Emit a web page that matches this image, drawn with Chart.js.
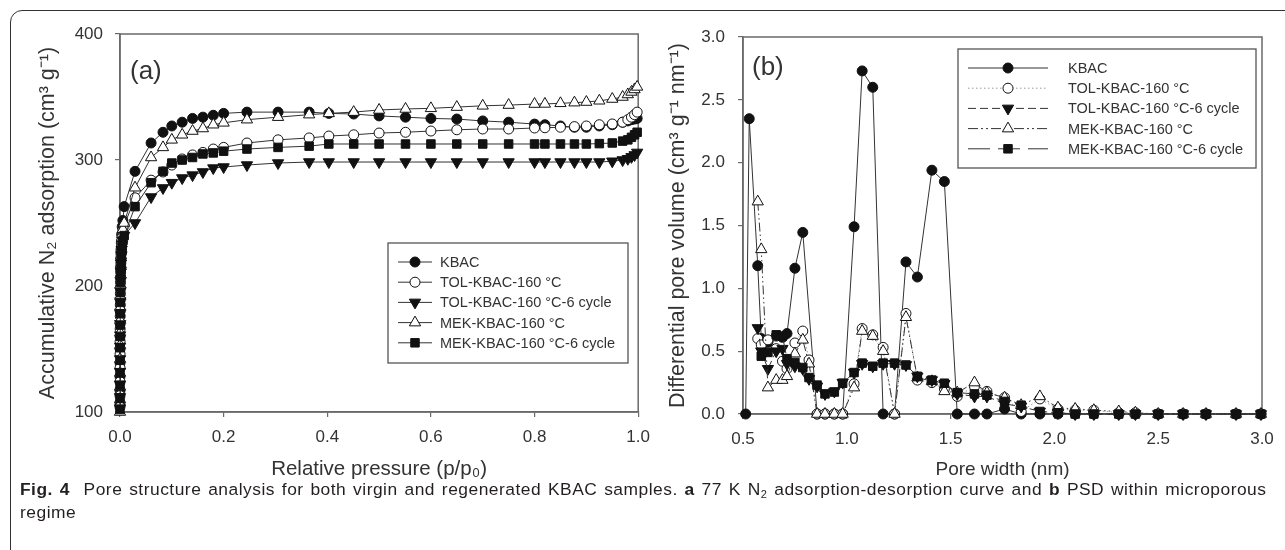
<!DOCTYPE html>
<html>
<head>
<meta charset="utf-8">
<script src="https://cdn.jsdelivr.net/npm/chart.js@4.4.0/dist/chart.umd.min.js"></script>
<style>
  body { margin: 0; background: #fff; width: 1285px; height: 550px; overflow: hidden; position: relative; }
  #frame { position: absolute; left: 10px; top: 10px; width: 1320px; height: 600px; border: 1px solid #333; border-radius: 12px; }
  #isoChart { position: absolute; left: 0; top: 0; }
  #psdChart { position: absolute; left: 655px; top: 0; }
  #caption { position: absolute; left: 20px; top: 478px; font-family: "Liberation Sans", Arial, sans-serif; font-size: 17.4px; letter-spacing: 0.5px; word-spacing: 1.5px; line-height: 23px; color: #231f20; white-space: nowrap; }
  #caption b { font-weight: 700; }
  #caption sub { font-size: 11px; line-height: 0; vertical-align: -3px; }
</style>
</head>
<body>
<div id="frame"></div>
<canvas id="isoChart" width="660" height="490"></canvas>
<canvas id="psdChart" width="630" height="490"></canvas>
<div id="caption"><b>Fig. 4</b>&nbsp; Pore structure analysis for both virgin and regenerated KBAC samples. <b>a</b> 77 K N<sub>2</sub> adsorption-desorption curve and <b>b</b> PSD within microporous<br>regime</div>

<script>
// sample names (same order in both panels)
const names = [
  "KBAC",
  "TOL-KBAC-160 °C",
  "TOL-KBAC-160 °C-6 cycle",
  "MEK-KBAC-160 °C",
  "MEK-KBAC-160 °C-6 cycle",
];

// (a) N2 isotherm, relative pressure p/p0
const pressure = [
  0.00001, 0.00003, 0.00006, 0.0001, 0.00015, 0.0002, 0.0003, 0.0004, 0.0005, 0.0007,
  0.0009, 0.0012, 0.0016, 0.002, 0.0026, 0.0033, 0.0042, 0.0055, 0.008,
  0.029, 0.06, 0.083, 0.1, 0.12, 0.14, 0.16, 0.18, 0.2, 0.245,
  0.305, 0.365, 0.403, 0.451, 0.5, 0.551, 0.6, 0.65, 0.7, 0.75,
  0.8, 0.82, 0.85, 0.877, 0.9, 0.925, 0.95, 0.97, 0.98, 0.987, 0.993, 0.998,
];
const isoKBAC = [
  106, 117, 128, 139, 150, 160, 170, 180, 189, 198, 207, 215, 222, 229, 235, 241, 247, 252, 263,
  291, 313.5, 322, 327, 330, 333, 334, 335.5, 337, 338,
  338, 338, 337, 336.5, 335, 334, 333, 332.5, 331, 330,
  328.5, 328, 327, 326, 326, 327, 328, 330, 331, 332, 332.5, 333,
];
const isoTOL = [
  104, 113, 124, 135, 146, 156, 166, 176, 185, 194, 203, 211, 218, 225, 231, 236, 240, 244, 248,
  270, 284, 290.5, 296, 300.8, 304, 306, 308.7, 310, 313.5,
  316, 317.5, 319, 320, 321.4, 322, 323, 324, 324.6, 324.6,
  325.4, 325.6, 326, 326.5, 327, 328, 328.6, 330, 332, 334, 336, 338,
];
const isoTOL6 = [
  103, 112, 122, 132, 142, 152, 161, 170, 179, 188, 196, 204, 211, 218, 224, 229, 233, 236, 240,
  250, 270.6, 277.8, 282, 285.7, 288, 290.5, 293.6, 294.4, 296,
  297.6, 298.4, 298.4, 298.4, 298.4, 298.4, 298.4, 298.4, 298.4, 298.4,
  298.4, 298.4, 298.4, 298.4, 298.4, 298.4, 299, 300, 301, 302.5, 304, 306,
];
const isoMEK = [
  100, 110, 120, 131, 142, 153, 163, 173, 183, 192, 201, 209, 217, 224, 230, 236, 241, 245, 250,
  278, 302, 310, 316, 320, 323, 325, 328, 329.5, 332,
  334, 336, 337, 338, 339.7, 340.5, 341, 342, 343, 343.6,
  344.4, 344.5, 345, 345.5, 346, 347, 348.4, 350, 352, 354, 356, 358,
];
const isoMEK6 = [
  102, 111, 121, 131, 141, 151, 160, 169, 178, 187, 195, 203, 210, 217, 223, 228, 232, 236, 240,
  263, 282, 291, 297.6, 300, 302, 304.8, 305.6, 307, 308.7,
  310, 311, 312.7, 312.7, 312.7, 312.7, 312.7, 312.7, 312.7, 312.7,
  312.7, 312.7, 312.7, 312.7, 312.7, 313, 313.5, 315, 316, 318, 320, 322,
];

// (b) pore size distribution, pore width in nm
const poreWidth = [
  0.513, 0.53, 0.571, 0.588, 0.62, 0.66, 0.69, 0.712, 0.75, 0.788,
  0.818, 0.857, 0.895, 0.94, 0.98, 1.035, 1.074, 1.125, 1.175, 1.23,
  1.285, 1.34, 1.41, 1.47, 1.532, 1.615, 1.675, 1.76, 1.84, 1.93,
  2.017, 2.1, 2.19, 2.31, 2.39, 2.5, 2.62, 2.73, 2.875, 2.995,
];
const psdKBAC = [
  0, 2.35, 1.18, 0.6, 0.57, 0.62, 0.61, 0.64, 1.16, 1.445,
  null, 0, 0, 0, 0, 1.49, 2.73, 2.6, 0, 0,
  1.21, 1.09, 1.94, 1.85, 0, 0, 0, 0.04, 0, 0,
  0, 0, 0, 0, 0, 0, 0, 0, 0, 0,
];
const psdTOL = [
  null, null, 0.6, 0.55, 0.59, 0.52, 0.42, 0.36, 0.565, 0.66,
  0.43, 0, 0, 0, 0, 0.24, 0.68, 0.63, 0.53, 0,
  0.8, 0.27, 0.25, 0.2, 0.14, 0.22, 0.18, 0.13, 0.02, 0.12,
  0.04, 0.03, 0.03, 0.01, 0.01, 0, 0, 0, 0, 0,
];
const psdTOL6 = [
  null, null, 0.685, 0.5, 0.36, 0.5, 0.52, 0.4, 0.38, 0.36,
  0.28, 0.22, 0.16, 0.18, 0.25, 0.33, 0.4, 0.38, 0.4, 0.4,
  0.39, 0.3, 0.27, 0.24, 0.16, 0.14, 0.14, 0.08, 0.06, 0.02,
  0.01, 0, 0, 0, 0, 0, 0, 0, 0, 0,
];
const psdMEK = [
  null, null, 1.69, 1.31, 0.21, 0.27, 0.27, 0.3, 0.48, 0.59,
  0.4, 0, 0, 0, 0, 0.21, 0.66, 0.62, 0.5, 0,
  0.77, 0.29, 0.26, 0.18, 0.17, 0.25, 0.17, 0.13, 0.07, 0.14,
  0.05, 0.04, 0.03, 0.02, 0.01, 0, 0, 0, 0, 0,
];
const psdMEK6 = [
  null, null, null, 0.46, 0.49, 0.63, 0.62, 0.44, 0.41, 0.37,
  0.29, 0.23, 0.16, 0.175, 0.245, 0.33, 0.405, 0.38, 0.405, 0.405,
  0.39, 0.3, 0.27, 0.245, 0.17, 0.16, 0.15, 0.1, 0.07, 0.02,
  0.01, 0, 0, 0, 0, 0, 0, 0, 0, 0,
];

// marker + line styles per sample
const markers = [
  { style: "circle", r: 5, fill: "#111", rot: 0 },
  { style: "circle", r: 5, fill: "#fff", rot: 0 },
  { style: "triangle", r: 6.5, fill: "#111", rot: 180 },
  { style: "triangle", r: 6.5, fill: "#fff", rot: 0 },
  { style: "rect", r: 6, fill: "#111", rot: 0 },
];
const dashes = [[], [1.5, 2.5], [7, 4], [9, 3, 1.5, 3, 1.5, 3], [13, 6]];
const lineColors = ["#333", "#999", "#333", "#333", "#333"];

const TXT = "#333";
const AXIS = "#6a6a6a";
const FONT = '"Liberation Sans", Arial, sans-serif';

function makeSets(xs, series, styled) {
  return series.map((ys, i) => ({
    label: names[i],
    data: xs.map((x, j) => ({ x: x, y: ys[j] })),
    showLine: true,
    borderColor: styled ? lineColors[i] : "#333",
    borderWidth: 1,
    borderDash: styled ? dashes[i] : [],
    pointStyle: markers[i].style,
    pointRadius: markers[i].r,
    pointHoverRadius: markers[i].r,
    pointRotation: markers[i].rot,
    pointBackgroundColor: markers[i].fill,
    pointBorderColor: "#111",
    pointBorderWidth: 1,
    spanGaps: true,
    clip: false,
    order: 5 - i,
  }));
}

// own marker drawing for the boxed legend
function drawMarker(ctx, m, x, y) {
  ctx.save();
  ctx.fillStyle = m.fill;
  ctx.strokeStyle = "#111";
  ctx.lineWidth = 1;
  ctx.setLineDash([]);
  ctx.beginPath();
  if (m.style === "circle") {
    ctx.arc(x, y, m.r, 0, Math.PI * 2);
  } else if (m.style === "rect") {
    const s = m.r * Math.SQRT1_2;
    ctx.rect(x - s, y - s, 2 * s, 2 * s);
  } else {
    let a = (m.rot * Math.PI) / 180;
    ctx.moveTo(x + Math.sin(a) * m.r, y - Math.cos(a) * m.r);
    a += (2 * Math.PI) / 3;
    ctx.lineTo(x + Math.sin(a) * m.r, y - Math.cos(a) * m.r);
    a += (2 * Math.PI) / 3;
    ctx.lineTo(x + Math.sin(a) * m.r, y - Math.cos(a) * m.r);
    ctx.closePath();
  }
  ctx.fill();
  ctx.stroke();
  ctx.restore();
}

const plotFrame = {
  id: "plotFrame",
  beforeDatasetsDraw(chart) {
    const a = chart.chartArea;
    const ctx = chart.ctx;
    ctx.save();
    ctx.strokeStyle = AXIS;
    ctx.lineWidth = 1.5;
    ctx.strokeRect(a.left, a.top, a.right - a.left, a.bottom - a.top);
    ctx.restore();
  },
  afterDraw(chart, args, o) {
    const a = chart.chartArea;
    const ctx = chart.ctx;
    ctx.save();
    ctx.fillStyle = TXT;
    ctx.font = "26px " + FONT;
    ctx.textBaseline = "middle";
    ctx.fillText(o.tag, a.left + o.tagX, a.top + o.tagY);
    ctx.restore();
  },
};

const boxLegend = {
  id: "boxLegend",
  afterDraw(chart, args, o) {
    const ctx = chart.ctx;
    ctx.save();
    ctx.fillStyle = "#fff";
    ctx.fillRect(o.x, o.y, o.w, o.h);
    ctx.strokeStyle = "#555";
    ctx.lineWidth = 1.3;
    ctx.strokeRect(o.x, o.y, o.w, o.h);
    ctx.font = "14.5px " + FONT;
    ctx.textBaseline = "middle";
    chart.data.datasets.forEach((ds, i) => {
      const y = o.y + o.first + i * o.row;
      ctx.strokeStyle = ds.borderColor;
      ctx.lineWidth = 1;
      ctx.setLineDash(o.dashes ? o.dashes[i] : []);
      ctx.beginPath();
      ctx.moveTo(o.lineX, y);
      ctx.lineTo(o.lineX + o.lineLen, y);
      ctx.stroke();
      ctx.setLineDash([]);
      drawMarker(ctx, markers[i], o.lineX + o.lineLen / 2, y);
      ctx.fillStyle = TXT;
      ctx.fillText(ds.label, o.textX, y + 1);
    });
    ctx.restore();
  },
};

function axis(min, max, step, title, titleSize, titlePad, tickPad, fit) {
  return {
    type: "linear",
    min: min,
    max: max,
    afterFit: fit,
    border: { display: true, color: AXIS, width: 1.5 },
    grid: { display: true, drawOnChartArea: false, drawTicks: true, tickLength: 5, color: AXIS, lineWidth: 1.2 },
    ticks: {
      stepSize: step,
      padding: tickPad,
      color: TXT,
      font: { family: FONT, size: 17 },
      callback: (v) => v.toFixed(step < 1 ? 1 : 0),
    },
    title: {
      display: true,
      text: title,
      color: TXT,
      padding: titlePad,
      font: { family: FONT, size: titleSize },
    },
  };
}

const isoSeries = [isoKBAC, isoTOL, isoTOL6, isoMEK, isoMEK6];
new Chart(document.getElementById("isoChart"), {
  type: "scatter",
  data: { datasets: makeSets(pressure, isoSeries, false) },
  options: {
    responsive: false,
    animation: false,
    devicePixelRatio: 1,
    layout: { padding: { left: 35, top: 34, right: 19, bottom: 0 } },
    scales: {
      x: axis(0, 1, 0.2, "Relative pressure (p/p₀)", 20.5, { top: 0, bottom: 8 }, 10, (s) => { s.height = 78; }),
      y: axis(100, 400, 100, "Accumulative N₂ adsorption (cm³ g⁻¹)", 21.5, { top: 0, bottom: 0 }, 12, (s) => { s.width = 85; }),
    },
    plugins: {
      legend: { display: false },
      tooltip: { enabled: false },
      plotFrame: { tag: "(a)", tagX: 10, tagY: 38 },
      boxLegend: { x: 388, y: 243, w: 240, h: 120, first: 19, row: 20.2, lineX: 398, lineLen: 34, textX: 440 },
    },
  },
  plugins: [plotFrame, boxLegend],
});

const psdSeries = [psdKBAC, psdTOL, psdTOL6, psdMEK, psdMEK6];
new Chart(document.getElementById("psdChart"), {
  type: "scatter",
  data: { datasets: makeSets(poreWidth, psdSeries, true) },
  options: {
    responsive: false,
    animation: false,
    devicePixelRatio: 1,
    layout: { padding: { left: 10, top: 37, right: 23, bottom: 0 } },
    scales: {
      x: axis(0.5, 3.0, 0.5, "Pore width (nm)", 19, { top: 0, bottom: 8.6 }, 10, (s) => { s.height = 76; }),
      y: axis(0, 3.0, 0.5, "Differential pore volume (cm³ g⁻¹ nm⁻¹)", 21.5, { top: 0, bottom: 0 }, 13, (s) => { s.width = 78; }),
    },
    plugins: {
      legend: { display: false },
      tooltip: { enabled: false },
      plotFrame: { tag: "(b)", tagX: 9, tagY: 31 },
      boxLegend: {
        x: 303, y: 49, w: 298, h: 119, first: 19, row: 20.2, lineX: 313, lineLen: 80, textX: 413,
        dashes: [[], [1.5, 2.5], [8, 4], [10, 3, 2, 3, 2, 3], [22, 8]],
      },
    },
  },
  plugins: [plotFrame, boxLegend],
});
</script>
</body>
</html>
